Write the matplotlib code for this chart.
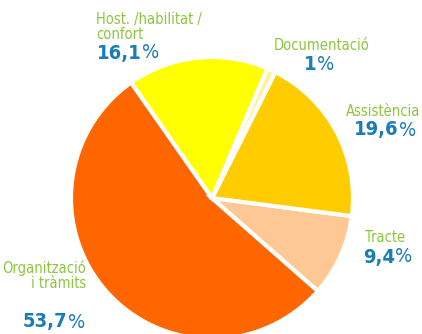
import matplotlib.pyplot as plt

# Motius de les queixes (%)
categories = ["Organització\ni tràmits", "Tracte", "Assistència", "Documentació", "Host. /habilitat /\nconfort"]
shares = [53.7, 9.4, 19.6, 1.0, 16.1]
share_labels = ["53,7", "9,4", "19,6", "1", "16,1"]
colors = ["#ff6600", "#fdc893", "#ffcc00", "#fff39a", "#ffff00"]

GREEN = "#8cc63f"
BLUE = "#1a7db5"

plt.rcParams["font.family"] = ["DejaVu Sans"]
plt.rcParams["font.stretch"] = "condensed"

fig = plt.figure(figsize=(4.22, 3.34), dpi=100)
ax = fig.add_axes([0, 0, 1, 1])

ax.pie(shares, colors=colors, startangle=125, counterclock=True,
       center=(212, 136), radius=141,
       wedgeprops=dict(edgecolor="white", linewidth=3))

ax.set_xlim(0, 422)
ax.set_ylim(0, 334)
ax.set_aspect("equal")
ax.axis("off")

# name position, ha, percentage position
label_pos = [
    ((86, 58), "right", (85, 12)),
    ((365, 97), "left", (363, 77)),
    ((420, 222), "right", (416, 204)),
    ((322, 288), "center", (319, 269)),
    ((96, 307), "left", (97, 281)),
]

renderer = fig.canvas.get_renderer()


def draw_pct(x, y, num, ha):
    # bold number followed by a light percent sign
    t = ax.text(x, y, num, color=BLUE, fontsize=14.5, fontweight="bold", ha="left", va="center")
    p = ax.text(x, y, "%", color=BLUE, fontsize=14.5, ha="left", va="center")
    wn = t.get_window_extent(renderer).width
    wp = p.get_window_extent(renderer).width
    total = wn + wp
    if ha == "right":
        x0 = x - total
    elif ha == "center":
        x0 = x - total / 2
    else:
        x0 = x
    t.set_x(x0)
    p.set_x(x0 + wn)


for name, (npos, ha, ppos), num in zip(categories, label_pos, share_labels):
    ax.text(npos[0], npos[1], name, color=GREEN, fontsize=10.5, ha=ha, va="center",
            linespacing=1.0, multialignment=ha)
    draw_pct(ppos[0], ppos[1], num, ha)

fig.savefig("out.png", dpi=100)
